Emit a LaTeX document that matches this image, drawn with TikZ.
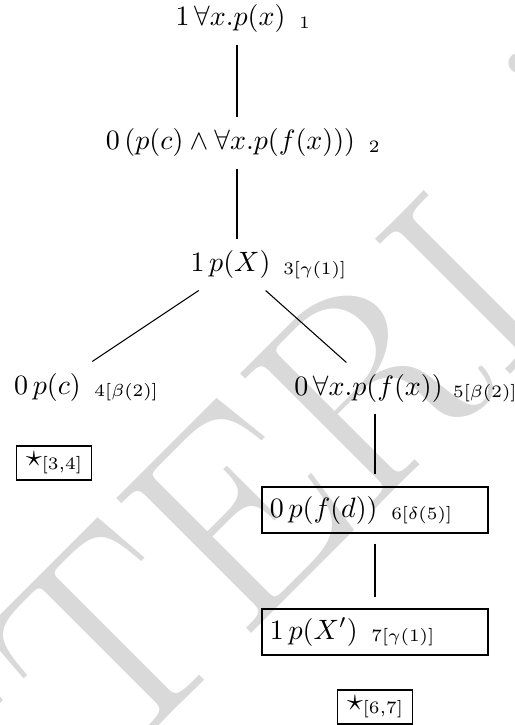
\RequirePackage{fix-cm}
\documentclass[tikz,border=0pt]{standalone}
\usepackage{fontspec}
\usetikzlibrary{calc}
\tikzset{
  hub/.style={rectangle, minimum width=37.31pt, minimum height=18.66pt, inner sep=0pt},
  fml/.style={inner sep=0pt, font=\fontsize{10.45pt}{12pt}\selectfont},
  lab/.style={inner sep=0pt, anchor=base west, font=\fontsize{6.5pt}{7.5pt}\selectfont},
  tbox/.style={draw, rectangle, line width=0.45pt, minimum width=84.33pt, minimum height=17.16pt, inner sep=0pt},
  sbox/.style={draw, rectangle, line width=0.45pt, minimum width=27.98pt, minimum height=12.69pt, inner sep=0pt},
  conn/.style={line width=0.4pt},
  wm/.style={rotate=45, anchor=base west, inner sep=0pt, text=black!15,
    font=\fontsize{104.5pt}{110pt}\selectfont}
}
\begin{document}
\begin{tikzpicture}[x=0.37313pt, y=-0.37313pt]
\useasboundingbox (0,0) rectangle (514,725);
\begin{scope}
  \clip (0,0) rectangle (514,725);
  \node[wm] (wm) at (-298,1183) {MUSTERLÖSUNG};
\end{scope}

% invisible hubs the connectors attach to
\node[hub] (h1) at (237,19) {};
\node[hub] (h2) at (237,143) {};
\node[hub] (h3) at (237,265) {};
\node[hub] (h4) at (54,387) {};
\node[hub] (h5) at (375,388) {};
\node[tbox] (b6) at (375,510) {};
\node[tbox] (b7) at (375,632) {};

% formulas
\node[fml] (f1) at ([xshift=-2.43pt]h1.center) {$1\,\forall x.p(x)$};
\node[fml] (f2) at ([xshift=-2.43pt]h2.center) {$0\,(p(c)\wedge\forall x.p(f(x)))$};
\node[fml] (f3) at ([xshift=-2.43pt]h3.center) {$1\,p(X)$};
\node[fml] (f4) at ([xshift=-2.43pt]h4.center) {$0\,p(c)$};
\node[fml] (f5) at ([xshift=-2.43pt]h5.center) {$0\,\forall x.p(f(x))$};
\node[fml, anchor=west] (f6) at ([xshift=2.99pt]b6.west) {$0\,p(f(d))$};
\node[fml, anchor=west] (f7) at ([xshift=2.99pt]b7.west) {$1\,p(X')$};

% labels
\node[lab] (l1) at ([xshift=4.7pt, yshift=-0.8pt]f1.base east) {$1$};
\node[lab] (l2) at ([xshift=4.7pt, yshift=-0.8pt]f2.base east) {$2$};
\node[lab] (l3) at ([xshift=4.4pt, yshift=-0.8pt]f3.base east) {$3[\gamma(1)]$};
\node[lab] (l4) at ([xshift=4.7pt, yshift=-0.8pt]f4.base east) {$4[\beta(2)]$};
\node[lab] (l5) at ([xshift=3.5pt, yshift=-0.8pt]f5.base east) {$5[\beta(2)]$};
\node[lab] (l6) at ([xshift=4.7pt, yshift=-0.8pt]f6.base east) {$6[\delta(5)]$};
\node[lab] (l7) at ([xshift=4.7pt, yshift=-0.8pt]f7.base east) {$7[\gamma(1)]$};

% closure boxes
\node[sbox] (s34) at (54,463) {\raisebox{0.4pt}{\large$\star$}\raisebox{-0.8pt}{\fontsize{6.5pt}{7pt}\selectfont$[3{,}4]$}};
\node[sbox] (s67) at (375,707) {\raisebox{0.4pt}{\large$\star$}\raisebox{-0.8pt}{\fontsize{6.5pt}{7pt}\selectfont$[6{,}7]$}};

% connectors
\draw[conn] (h1) -- (h2);
\draw[conn] (h2) -- (h3);
\draw[conn] (h3) -- (h4);
\draw[conn] (h3) -- (h5);
\draw[conn, shorten >=4.48pt] (h5) -- (b6);
\draw[conn, shorten <=3.73pt, shorten >=4.1pt] (b6) -- (b7);
\end{tikzpicture}
\end{document}
